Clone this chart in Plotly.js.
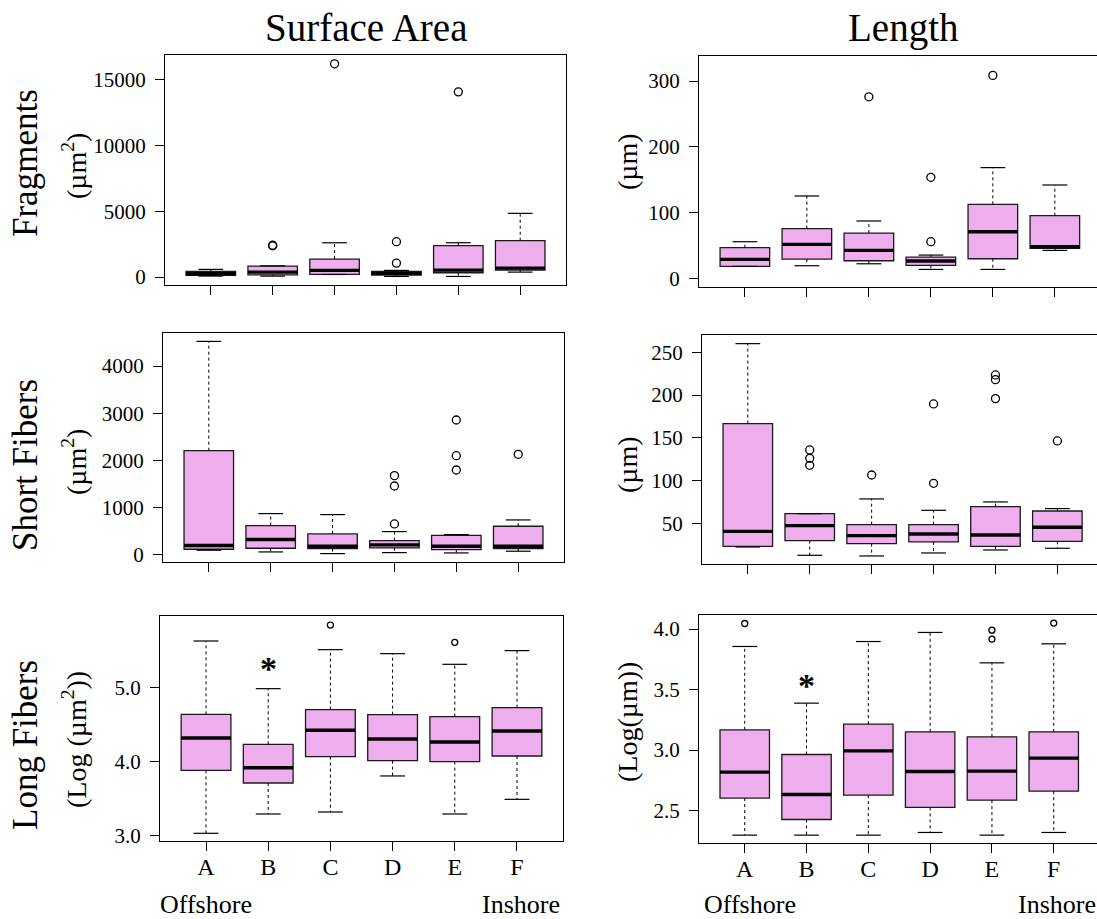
<!DOCTYPE html>
<html>
<head>
<meta charset="utf-8">
<script src="https://cdn.plot.ly/plotly-3.0.1.min.js"></script>
<style>html,body{margin:0;padding:0;background:#fff;}#chart{width:1097px;height:919px;}</style>
</head>
<body>
<div id="chart"></div>
<script>
// ---------- DATA ----------
const categories = ['A', 'B', 'C', 'D', 'E', 'F'];

// Surface area – fragments (µm²)
const saFragLower  = [80, 76, 200, 50, 50, 380];
const saFragQ1     = [130, 175, 205, 152, 330, 530];
const saFragMedian = [250, 380, 510, 280, 530, 685];
const saFragQ3     = [434, 837, 1370, 434, 2385, 2765];
const saFragUpper  = [586, 860, 2610, 510, 2610, 4845];
const saFragOutCat = ['B', 'B', 'C', 'D', 'D', 'E'];
const saFragOutVal = [2380, 2420, 16210, 2690, 1065, 14080];

// Length – fragments (µm)
const lenFragLower  = [18.3, 19.3, 22.3, 13.7, 13.7, 42.6];
const lenFragQ1     = [18.3, 29.4, 26.9, 19.8, 29.9, 45.7];
const lenFragMedian = [28.9, 51.7, 42.6, 26.4, 71, 48.2];
const lenFragQ3     = [46.7, 75.6, 69, 32.5, 112.6, 95.4];
const lenFragUpper  = [55.8, 125.3, 87.3, 35.5, 168.4, 142];
const lenFragOutCat = ['C', 'D', 'D', 'E'];
const lenFragOutVal = [276, 153.7, 55.8, 308.5];

// Surface area – short fibers (µm²)
const saShortLower  = [99, 63, 28, 49, 42, 78];
const saShortQ1     = [120, 141, 134, 148, 113, 134];
const saShortMedian = [198, 325, 183, 212, 183, 183];
const saShortQ3     = [2208, 621, 444, 303, 416, 607];
const saShortUpper  = [4522, 875, 854, 494, 430, 741];
const saShortOutCat = ['D', 'D', 'D', 'E', 'E', 'E', 'F'];
const saShortOutVal = [1679, 1460, 656, 2857, 2102, 1799, 2131];

// Length – short fibers (µm)
const lenShortLower  = [22.3, 12.6, 11.8, 15.3, 18.8, 20.8];
const lenShortQ1     = [23.1, 29.7, 26.2, 28.2, 23.1, 28.9];
const lenShortMedian = [40.6, 47.3, 35.6, 37.5, 36.4, 45.3];
const lenShortQ3     = [166.6, 61.3, 48.4, 48.4, 69.5, 64.4];
const lenShortUpper  = [260.1, 61.3, 78.5, 65.2, 75, 67.2];
const lenShortOutCat = ['B', 'B', 'B', 'C', 'D', 'D', 'E', 'E', 'E', 'F'];
const lenShortOutVal = [135.8, 126, 117.8, 106.5, 189.6, 96.8, 223.5, 218, 195.8, 146.3];

// Surface area – long fibers (log µm²)
const saLongLower  = [3.036, 3.297, 3.324, 3.811, 3.297, 3.495];
const saLongQ1     = [3.887, 3.716, 4.072, 4.018, 4.005, 4.081];
const saLongMedian = [4.324, 3.923, 4.428, 4.311, 4.270, 4.419];
const saLongQ3     = [4.644, 4.239, 4.707, 4.640, 4.613, 4.734];
const saLongUpper  = [5.635, 4.991, 5.518, 5.464, 5.320, 5.505];
const saLongOutCat = ['C', 'E'];
const saLongOutVal = [5.851, 5.617];

// Length – long fibers (log µm)
const lenLongLower  = [2.298, 2.298, 2.298, 2.320, 2.298, 2.320];
const lenLongQ1     = [2.604, 2.427, 2.628, 2.527, 2.587, 2.661];
const lenLongMedian = [2.818, 2.634, 2.994, 2.824, 2.827, 2.934];
const lenLongQ3     = [3.168, 2.964, 3.215, 3.151, 3.110, 3.151];
const lenLongUpper  = [3.856, 3.388, 3.897, 3.972, 3.721, 3.878];
const lenLongOutCat = ['A', 'E', 'E', 'F'];
const lenLongOutVal = [4.046, 3.991, 3.917, 4.049];

// significance marks
const sigCat = 'B';
const sigSaLong = 5.26;
const sigLenLong = 3.53;

// ---------- BUILD ----------
const W = 1097, H = 919;
const FONT = 'Liberation Serif';
const FILL = '#EEAEEE';
const pos = c => categories.indexOf(c) + 1;
const xs = categories.map((c, i) => i + 1);

function panel(ax, lower, q1, med, q3, upper, outCat, outVal, msize) {
  const xa = 'x' + (ax === 1 ? '' : ax), ya = 'y' + (ax === 1 ? '' : ax);
  const tr = [];
  // whiskers (dashed)
  const wx = [], wy = [];
  xs.forEach((x, i) => { wx.push(x, x, null, x, x, null); wy.push(q3[i], upper[i], null, q1[i], lower[i], null); });
  tr.push({type: 'scatter', mode: 'lines', x: wx, y: wy, xaxis: xa, yaxis: ya,
    line: {color: '#000', width: 1, dash: '3px,3px'}, hoverinfo: 'skip', showlegend: false});
  // caps
  const cx = [], cy = [];
  xs.forEach((x, i) => { cx.push(x - 0.2, x + 0.2, null, x - 0.2, x + 0.2, null); cy.push(upper[i], upper[i], null, lower[i], lower[i], null); });
  tr.push({type: 'scatter', mode: 'lines', x: cx, y: cy, xaxis: xa, yaxis: ya,
    line: {color: '#000', width: 1.2}, hoverinfo: 'skip', showlegend: false});
  // boxes
  tr.push({type: 'box', x: xs, q1: q1, median: med, q3: q3, lowerfence: q1, upperfence: q3,
    xaxis: xa, yaxis: ya, width: 0.8, fillcolor: FILL, whiskerwidth: 0,
    line: {color: '#1a1a1a', width: 1.3}, boxpoints: false, showlegend: false, hoverinfo: 'skip'});
  // medians (thick)
  const mx = [], my = [];
  xs.forEach((x, i) => { mx.push(x - 0.4, x + 0.4, null); my.push(med[i], med[i], null); });
  tr.push({type: 'scatter', mode: 'lines', x: mx, y: my, xaxis: xa, yaxis: ya,
    line: {color: '#000', width: 3.4}, hoverinfo: 'skip', showlegend: false});
  // outliers
  tr.push({type: 'scatter', mode: 'markers', x: outCat.map(pos), y: outVal, xaxis: xa, yaxis: ya,
    marker: {symbol: 'circle-open', size: msize, color: '#000', line: {width: 1.3, color: '#000'}},
    hoverinfo: 'skip', showlegend: false});
  return tr;
}

const data = [].concat(
  panel(1, saFragLower, saFragQ1, saFragMedian, saFragQ3, saFragUpper, saFragOutCat, saFragOutVal, 8),
  panel(2, lenFragLower, lenFragQ1, lenFragMedian, lenFragQ3, lenFragUpper, lenFragOutCat, lenFragOutVal, 8),
  panel(3, saShortLower, saShortQ1, saShortMedian, saShortQ3, saShortUpper, saShortOutCat, saShortOutVal, 8),
  panel(4, lenShortLower, lenShortQ1, lenShortMedian, lenShortQ3, lenShortUpper, lenShortOutCat, lenShortOutVal, 8),
  panel(5, saLongLower, saLongQ1, saLongMedian, saLongQ3, saLongUpper, saLongOutCat, saLongOutVal, 6),
  panel(6, lenLongLower, lenLongQ1, lenLongMedian, lenLongQ3, lenLongUpper, lenLongOutCat, lenLongOutVal, 6)
);

const px = (a, b) => [a / W, b / W];
const py = (top, bottom) => [1 - bottom / H, 1 - top / H];

function xaxis(dom, range, labels, anchor) {
  return {domain: dom, range: range, anchor: anchor, tickvals: xs, ticktext: categories,
    showticklabels: labels, ticks: 'outside', ticklen: 9, tickwidth: 1, tickcolor: '#000',
    showline: true, mirror: true, linecolor: '#000', linewidth: 1, showgrid: false, zeroline: false,
    tickfont: {family: FONT, size: 24, color: '#000'}, ticklabelstandoff: -5, fixedrange: true};
}
function yaxis(dom, range, tv, tt, mirror, anchor) {
  return {domain: dom, range: range, anchor: anchor, tickvals: tv, ticktext: tt,
    ticks: 'outside', ticklen: 9, tickwidth: 1, tickcolor: '#000',
    showline: true, mirror: mirror, linecolor: '#000', linewidth: 1, showgrid: false, zeroline: false,
    tickfont: {family: FONT, size: 21, color: '#000'}, ticklabelstandoff: 5, fixedrange: true};
}

const layout = {
  width: W, height: H, margin: {l: 0, r: 0, t: 0, b: 0},
  paper_bgcolor: '#fff', plot_bgcolor: '#fff', showlegend: false,
  font: {family: FONT, color: '#000'},
  xaxis:  xaxis(px(165, 566), [0.26, 6.74], false, 'y'),
  yaxis:  yaxis(py(55, 285), [-600, 16880], [0, 5000, 10000, 15000], ['0', '5000', '10000', '15000'], true, 'x'),
  xaxis2: xaxis(px(699, 1097), [0.26, 6.68], false, 'y2'),
  yaxis2: yaxis(py(56, 287), [-13, 338], [0, 100, 200, 300], ['0', '100', '200', '300'], false, 'x2'),
  xaxis3: xaxis(px(163, 564), [0.26, 6.74], false, 'y3'),
  yaxis3: yaxis(py(333, 562), [-150, 4700], [0, 1000, 2000, 3000, 4000], ['0', '1000', '2000', '3000', '4000'], true, 'x3'),
  xaxis4: xaxis(px(702, 1097), [0.26, 6.64], false, 'y4'),
  yaxis4: yaxis(py(335, 564), [2.4, 270.2], [50, 100, 150, 200, 250], ['50', '100', '150', '200', '250'], false, 'x4'),
  xaxis5: xaxis(px(160, 563), [0.26, 6.74], true, 'y5'),
  yaxis5: yaxis(py(616, 841), [2.932, 5.973], [3, 4, 5], ['3.0', '4.0', '5.0'], true, 'x5'),
  xaxis6: xaxis(px(699, 1097), [0.26, 6.70], true, 'y6'),
  yaxis6: yaxis(py(615, 843), [2.233, 4.116], [2.5, 3, 3.5, 4], ['2.5', '3.0', '3.5', '4.0'], false, 'x6'),
  annotations: []
};

function ann(text, x, y, size, angle, extra) {
  return Object.assign({text: text, x: x / W, y: 1 - y / H, xref: 'paper', yref: 'paper',
    showarrow: false, xanchor: 'center', yanchor: 'middle', textangle: angle || 0,
    font: {family: FONT, size: size, color: '#000'}}, extra || {});
}
layout.annotations.push(
  ann('Surface Area', 366, 28, 39),
  ann('Length', 903, 28, 39),
  ann('Fragments', 25, 163, 35, -90),
  ann('(µm<sup>2</sup>)', 74, 166, 28, -90),
  ann('Short Fibers', 25, 465, 35, -90),
  ann('(µm<sup>2</sup>)', 74, 462, 28, -90),
  ann('Long Fibers', 25, 745, 35, -90),
  ann('(Log (µm<sup>2</sup>))', 74, 740, 28, -90),
  ann('(µm)', 627, 162, 28, -90),
  ann('(µm)', 627, 465, 28, -90),
  ann('(Log(µm))', 627, 722, 28, -90),
  ann('Offshore', 206, 904, 26),
  ann('Inshore', 521, 904, 26),
  ann('Offshore', 750, 904, 26),
  ann('Inshore', 1057, 904, 26)
);
layout.annotations.push(
  {text: '<b>*</b>', x: pos(sigCat), y: sigSaLong, xref: 'x5', yref: 'y5', showarrow: false,
   font: {family: FONT, size: 34, color: '#000'}, xanchor: 'center', yanchor: 'middle'},
  {text: '<b>*</b>', x: pos(sigCat), y: sigLenLong, xref: 'x6', yref: 'y6', showarrow: false,
   font: {family: FONT, size: 34, color: '#000'}, xanchor: 'center', yanchor: 'middle'}
);

Plotly.newPlot('chart', data, layout, {displayModeBar: false, staticPlot: true});
</script>
</body>
</html>
